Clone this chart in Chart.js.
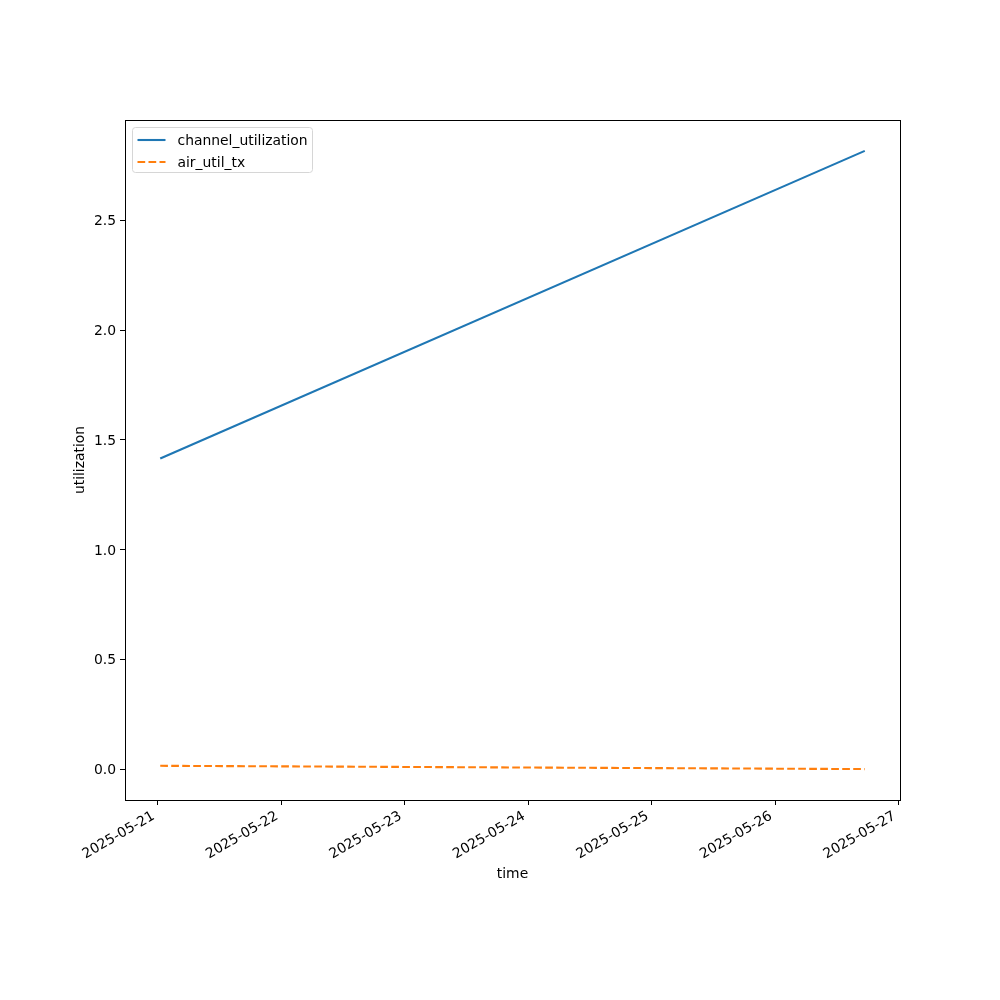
<!DOCTYPE html>
<html>
<head>
<meta charset="utf-8">
<script src="https://cdn.jsdelivr.net/npm/chart.js@4.4.1/dist/chart.umd.min.js"></script>
<style>
  html, body { margin: 0; padding: 0; background: #fff; }
  #wrap { width: 1000px; height: 1000px; }
</style>
</head>
<body>
<div id="wrap"><canvas id="utilChart" width="1000" height="1000"></canvas></div>
<script>
// data
const times = ['2025-05-21T00:30:00Z', '2025-05-26T17:25:00Z'];
const channelUtilization = [1.415, 2.816];
const airUtilTx = [0.015, 0.0];
const dayTicks = ['2025-05-21', '2025-05-22', '2025-05-23', '2025-05-24', '2025-05-25', '2025-05-26', '2025-05-27'];
const yTicks = [0.0, 0.5, 1.0, 1.5, 2.0, 2.5];

const toMs = s => new Date(s).getTime();

const xs = times.map(toMs);
const tickMs = dayTicks.map(d => toMs(d + 'T00:00:00Z'));

// matplotlib style 5% margins
const xSpan = xs[xs.length - 1] - xs[0];
const xMin = xs[0] - 0.05 * xSpan;
const xMax = xs[xs.length - 1] + 0.05 * xSpan;
const allY = channelUtilization.concat(airUtilTx);
const yLo = Math.min(...allY), yHi = Math.max(...allY);
const yMin = yLo - 0.05 * (yHi - yLo);
const yMax = yHi + 0.05 * (yHi - yLo);

const FONT = 'DejaVu Sans';
Chart.defaults.font.family = FONT;
Chart.defaults.font.size = 13.9;
Chart.defaults.color = '#000';

function fmtDay(ms) {
    const d = new Date(ms);
    const p = n => String(n).padStart(2, '0');
    return d.getUTCFullYear() + '-' + p(d.getUTCMonth() + 1) + '-' + p(d.getUTCDate());
}

// frame + legend drawn inside the plot area, like matplotlib
const framePlugin = {
    id: 'frame',
    afterDatasetsDraw(chart) {
        const { ctx, chartArea: a } = chart;
        ctx.save();
        ctx.strokeStyle = '#000';
        ctx.lineWidth = 1;
        ctx.strokeRect(Math.round(a.left) + 0.5, Math.round(a.top) + 0.5,
            Math.round(a.right - a.left), Math.round(a.bottom - a.top));

        // legend
        const bx = a.left + 7.5, by = a.top + 7.5, bw = 180, bh = 45;
        ctx.beginPath();
        ctx.roundRect(bx, by, bw, bh, 3);
        ctx.fillStyle = 'rgba(255,255,255,0.8)';
        ctx.fill();
        ctx.strokeStyle = '#d6d6d6';
        ctx.stroke();
        chart.data.datasets.forEach((ds, i) => {
            const ly = by + 12.5 + i * 22;
            ctx.beginPath();
            ctx.setLineDash(ds.borderDash || []);
            ctx.strokeStyle = ds.borderColor;
            ctx.lineWidth = ds.borderWidth;
            ctx.moveTo(bx + 5, ly);
            ctx.lineTo(bx + 33, ly);
            ctx.stroke();
            ctx.setLineDash([]);
            ctx.fillStyle = '#000';
            ctx.font = '13.9px "' + FONT + '"';
            ctx.textBaseline = 'middle';
            ctx.fillText(ds.label, bx + 45, ly + 1.5);
        });
        ctx.restore();
    }
};

const ctx = document.getElementById('utilChart').getContext('2d');
const utilChart = new Chart(ctx, {
    type: 'line',
    data: {
        datasets: [{
            label: 'channel_utilization',
            data: xs.map((x, i) => ({ x: x, y: channelUtilization[i] })),
            borderColor: '#1f77b4',
            borderWidth: 2.1,
            pointRadius: 0,
            tension: 0
        }, {
            label: 'air_util_tx',
            data: xs.map((x, i) => ({ x: x, y: airUtilTx[i] })),
            borderColor: '#ff7f0e',
            borderWidth: 2.1,
            borderDash: [7.7, 3.3],
            pointRadius: 0,
            tension: 0
        }]
    },
    options: {
        responsive: false,
        animation: false,
        layout: {
            padding: { left: 68, right: 100, top: 120, bottom: 113 }
        },
        plugins: {
            legend: { display: false },
            tooltip: { enabled: false }
        },
        scales: {
            x: {
                type: 'linear',
                min: xMin,
                max: xMax,
                afterBuildTicks(scale) {
                    scale.ticks = tickMs.map(v => ({ value: v }));
                },
                afterFit(scale) { scale.height = 87; },
                grid: {
                    drawOnChartArea: false,
                    drawTicks: true,
                    tickLength: 5,
                    color: '#000'
                },
                border: { display: false },
                ticks: {
                    autoSkip: false,
                    minRotation: 30,
                    maxRotation: 30,
                    padding: 3,
                    labelOffset: -4,
                    callback: v => fmtDay(v)
                },
                title: { display: true, text: 'time', padding: { top: 4, bottom: 4 } }
            },
            y: {
                min: yMin,
                max: yMax,
                afterBuildTicks(scale) {
                    scale.ticks = yTicks.map(v => ({ value: v }));
                },
                afterFit(scale) { scale.width = 57; },
                grid: {
                    drawOnChartArea: false,
                    drawTicks: true,
                    tickLength: 5,
                    color: '#000'
                },
                border: { display: false },
                ticks: {
                    padding: 4,
                    labelOffset: 1.5,
                    callback: v => v.toFixed(1)
                },
                title: { display: true, text: 'utilization', padding: { top: 4, bottom: 4 } }
            }
        }
    },
    plugins: [framePlugin]
});
</script>
</body>
</html>
